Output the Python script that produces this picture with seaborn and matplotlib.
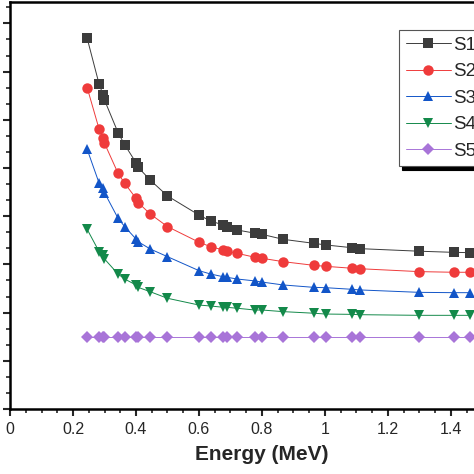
import numpy as np
import pandas as pd
import matplotlib
matplotlib.use("Agg")
import matplotlib.pyplot as plt
from matplotlib.ticker import MultipleLocator, NullFormatter
import seaborn as sns

# photon energies (MeV)
energy = [0.245, 0.283, 0.296, 0.300, 0.343, 0.364, 0.400, 0.407, 0.445, 0.500,
          0.600, 0.637, 0.677, 0.688, 0.721, 0.778, 0.800, 0.867, 0.965, 1.002,
          1.085, 1.111, 1.299, 1.408, 1.460]

s1 = [2.307, 2.021, 1.954, 1.923, 1.720, 1.645, 1.533, 1.504, 1.425, 1.326,
      1.207, 1.170, 1.145, 1.135, 1.114, 1.094, 1.087, 1.056, 1.031, 1.021,
      1.004, 0.998, 0.982, 0.975, 0.973]
s2 = [2.000, 1.741, 1.687, 1.654, 1.467, 1.405, 1.311, 1.284, 1.214, 1.135,
      1.038, 1.010, 0.990, 0.983, 0.969, 0.944, 0.938, 0.917, 0.894, 0.888,
      0.876, 0.873, 0.855, 0.851, 0.851]
s3 = [1.616, 1.405, 1.376, 1.346, 1.187, 1.135, 1.058, 1.041, 0.996, 0.948,
      0.861, 0.840, 0.823, 0.820, 0.809, 0.797, 0.790, 0.772, 0.757, 0.755,
      0.745, 0.741, 0.726, 0.724, 0.724]
s4 = [1.118, 0.979, 0.958, 0.934, 0.840, 0.809, 0.772, 0.757, 0.730, 0.689,
      0.647, 0.641, 0.633, 0.633, 0.627, 0.616, 0.616, 0.606, 0.596, 0.591,
      0.589, 0.587, 0.583, 0.583, 0.583]
s5 = [0.450] * 25

labels = ["S1", "S2", "S3", "S4", "S5"]
series = [s1, s2, s3, s4, s5]
colors = ["#3c3c3c", "#ef3b3b", "#1255c8", "#13894a", "#a874d8"]
markers = ["s", "o", "^", "v", "D"]
msizes = [7, 7.5, 7.5, 7.5, 6.5]

sns.set_style("ticks")
plt.rcParams["font.family"] = ["Liberation Sans", "DejaVu Sans"]

fig = plt.figure(figsize=(4.74, 4.74), dpi=100)
# axes runs past the right edge, like the cropped original
ax = fig.add_axes([10 / 474, 65 / 474, 504 / 474, 407 / 474])

for lab, vals, c, m, ms in zip(labels, series, colors, markers, msizes):
    df = pd.DataFrame({"Energy": energy, "val": vals})
    sns.lineplot(data=df, x="Energy", y="val", ax=ax, color=c, lw=0.7,
                 marker=m, markersize=ms, markeredgewidth=0, label=lab)

ax.set_xlim(0, 1.6)
ax.set_ylim(0, 2.533)
ax.xaxis.set_major_locator(MultipleLocator(0.2))
ax.xaxis.set_minor_locator(MultipleLocator(0.05))
ax.yaxis.set_major_locator(MultipleLocator(0.3))
ax.yaxis.set_minor_locator(MultipleLocator(0.1))
ax.xaxis.set_major_formatter(plt.FuncFormatter(lambda v, p: f"{v:g}"))
ax.yaxis.set_major_formatter(NullFormatter())

for sp in ax.spines.values():
    sp.set_linewidth(1.8)
    sp.set_color("black")
ax.tick_params(which="major", direction="out", length=5, width=1.5,
               labelsize=11.5, pad=4)
ax.tick_params(which="minor", direction="out", length=3, width=1.2)

ax.set_xlabel("Energy (MeV)", fontsize=15, fontweight="bold", labelpad=6)
ax.set_ylabel("")

leg = ax.legend(loc="upper left", bbox_to_anchor=(399 / 474, 1 - 30 / 474),
                bbox_transform=fig.transFigure, fontsize=13.5, frameon=True,
                fancybox=False, borderaxespad=0, handlelength=2.4,
                labelspacing=0.5, borderpad=0.35, handletextpad=0.15,
                shadow={"ox": 2.5, "oy": -2.5, "color": "black", "alpha": 1})
leg.get_frame().set_edgecolor("#555555")
leg.get_frame().set_linewidth(0.8)

fig.savefig("out.png", dpi=100)
